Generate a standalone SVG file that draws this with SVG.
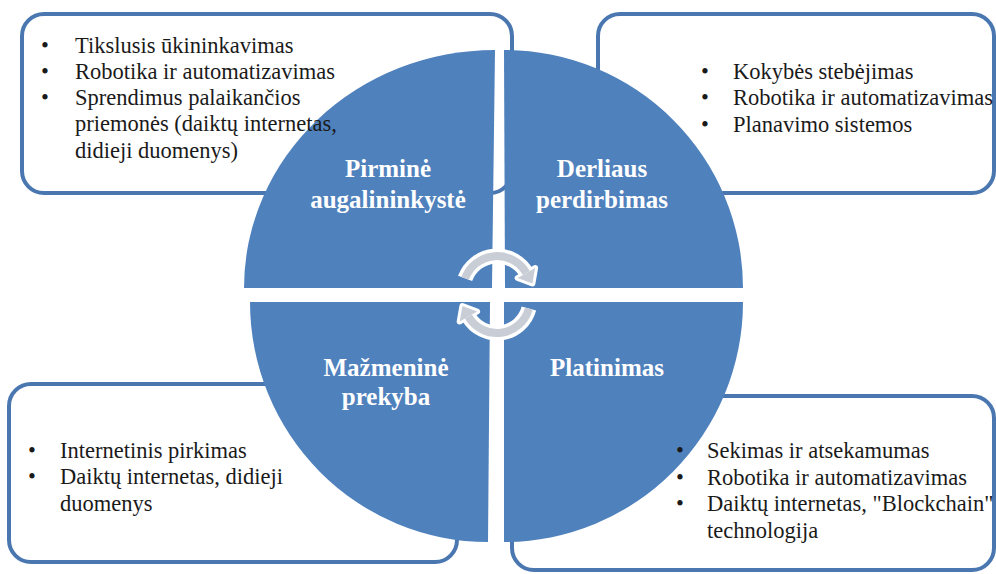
<svg xmlns="http://www.w3.org/2000/svg" width="996" height="574" viewBox="0 0 996 574">
<style>
.box{fill:#ffffff;stroke:#4a77b0;stroke-width:4}
.q{fill:#4f81bd}
.t{font-family:"Liberation Serif","Times New Roman",serif;font-size:22.5px;fill:#1a1a1a}
.lbl{font-family:"Liberation Serif","Times New Roman",serif;font-size:25px;font-weight:bold;fill:#ffffff;text-anchor:middle}
.aw{fill:none;stroke:#ffffff;stroke-width:15}
.ag{fill:none;stroke:#c9cdd5;stroke-width:8}
.hw{fill:#ffffff;stroke:#ffffff;stroke-width:6;stroke-linejoin:round}
.hg{fill:#c9cdd5}
</style>
<rect width="996" height="574" fill="#ffffff"/>
<g id="box-top-left"><rect class="box" x="22" y="14" width="490" height="179" rx="22"/></g>
<g id="box-top-right"><rect class="box" x="598" y="14" width="396" height="179" rx="22"/></g>
<g id="box-bottom-left"><rect class="box" x="9" y="384" width="448" height="178" rx="22"/></g>
<g id="box-bottom-right"><rect class="box" x="512" y="396" width="482" height="174" rx="22"/></g>

<g id="quadrant-pirmine">
<path class="q" d="M492 288 L495 50 A251 238 0 0 0 244 288 Z"/>
<text class="lbl" x="388" y="177">Pirminė</text>
<text class="lbl" x="388" y="208">augalininkystė</text>
</g>
<g id="quadrant-derliaus">
<path class="q" d="M505 288 L504 50 A239 238 0 0 1 743 288 Z"/>
<text class="lbl" x="602" y="177">Derliaus</text>
<text class="lbl" x="602" y="208">perdirbimas</text>
</g>
<g id="quadrant-mazmenine">
<path class="q" d="M490 302 L250 302 A238 240 0 0 0 488 542 Z"/>
<text class="lbl" x="386" y="376">Mažmeninė</text>
<text class="lbl" x="386" y="405">prekyba</text>
</g>
<g id="quadrant-platinimas">
<path class="q" d="M504 302 L743 302 A239 240 0 0 1 504 542 Z"/>
<text class="lbl" x="607" y="376">Platinimas</text>
</g>

<g id="connectors">
<path class="aw" d="M465.1 278.4 A34 34 0 0 1 526.4 273"/>
<polygon class="hw" points="535.1,268 517.7,278 532.4,283.4"/>
<path class="aw" d="M528.9 308.5 A33 33 0 0 1 468.4 316.5"/>
<polygon class="hw" points="459.7,321.5 477.1,311.5 462.4,306.1"/>
<path class="ag" d="M465.1 278.4 A34 34 0 0 1 526.4 273"/>
<polygon class="hg" points="535.1,268 517.7,278 532.4,283.4"/>
<path class="ag" d="M528.9 308.5 A33 33 0 0 1 468.4 316.5"/>
<polygon class="hg" points="459.7,321.5 477.1,311.5 462.4,306.1"/>
</g>

<g id="text-top-left">
<text class="t" x="41" y="53">•</text><text class="t" x="75" y="53">Tikslusis ūkininkavimas</text>
<text class="t" x="41" y="79">•</text><text class="t" x="75" y="79">Robotika ir automatizavimas</text>
<text class="t" x="41" y="105">•</text><text class="t" x="75" y="105">Sprendimus palaikančios</text>
<text class="t" x="75" y="131">priemonės (daiktų internetas,</text>
<text class="t" x="75" y="158">didieji duomenys)</text>
</g>
<g id="text-top-right">
<text class="t" x="701" y="79">•</text><text class="t" x="733" y="79">Kokybės stebėjimas</text>
<text class="t" x="701" y="105">•</text><text class="t" x="733" y="105">Robotika ir automatizavimas</text>
<text class="t" x="701" y="132">•</text><text class="t" x="733" y="132">Planavimo sistemos</text>
</g>
<g id="text-bottom-left">
<text class="t" x="28" y="458">•</text><text class="t" x="60" y="458">Internetinis pirkimas</text>
<text class="t" x="28" y="484">•</text><text class="t" x="60" y="484">Daiktų internetas, didieji</text>
<text class="t" x="60" y="511">duomenys</text>
</g>
<g id="text-bottom-right">
<text class="t" x="676" y="458">•</text><text class="t" x="707" y="458">Sekimas ir atsekamumas</text>
<text class="t" x="676" y="485">•</text><text class="t" x="707" y="485">Robotika ir automatizavimas</text>
<text class="t" x="676" y="511">•</text><text class="t" x="707" y="511">Daiktų internetas, "Blockchain"</text>
<text class="t" x="707" y="538">technologija</text>
</g>
</svg>
